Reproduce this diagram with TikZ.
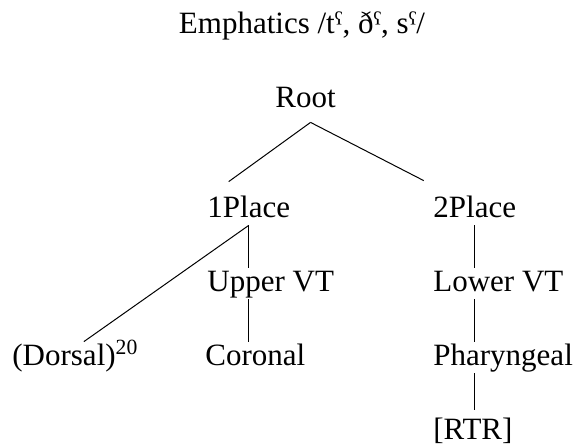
\documentclass[tikz,border=0pt]{standalone}
\usepackage{fontspec}
\setmainfont{Liberation Serif}
\usepackage{tikz}
\usetikzlibrary{calc}
\tikzset{
  lbl/.style={anchor=base west,inner sep=0pt,text height=11.5pt,text depth=4pt},
  ln/.style={line width=0.5pt}
}
\begin{document}
\begin{tikzpicture}[x=0.5pt,y=-0.5pt,font=\fontsize{15.5}{18}\selectfont]
\useasboundingbox (0,0) rectangle (579,445);
\node[anchor=base] (ttl) at (302,33) {Emphatics /tˤ, ðˤ, sˤ/};
\node[lbl] (root) at (275,107) {Root};
% left branch
\node[lbl] (p1) at (207,217) {1Place};
\node[lbl] (uvt) at (207,291) {Upper VT};
\node[lbl] (cor) at (205,365) {Coronal};
\node[lbl] (dor) at (12,365) {(Dorsal)\textsuperscript{20}};
% right branch
\node[lbl] (p2) at (433,217) {2Place};
\foreach \n/\y/\t in {lvt/291/{Lower VT},phar/365/{Pharyngeal},rtr/439/{[RTR]}}
  \node[lbl] (\n) at (433,\y) {\t};
\draw[ln] ([xshift=2.5pt,yshift=-3.5pt]root.south) -- ([xshift=-10pt,yshift=6pt]p1.north);
\draw[ln] ([xshift=2.5pt,yshift=-3.5pt]root.south) -- ([xshift=-25.5pt,yshift=6.5pt]p2.north);
\draw[ln] (p1.south) -- ([xshift=4.25pt]dor.north);
\draw[ln] (p1.south) -- (p1.south |- uvt.north);
\draw[ln] (p1.south |- uvt.south) -- (p1.south |- cor.north);
\draw[ln] (p2.south) -- (p2.south |- lvt.north);
\draw[ln] (p2.south |- lvt.south) -- (p2.south |- phar.north);
\draw[ln] (p2.south |- phar.south) -- ([yshift=3pt]p2.south |- rtr.north);
\end{tikzpicture}
\end{document}
